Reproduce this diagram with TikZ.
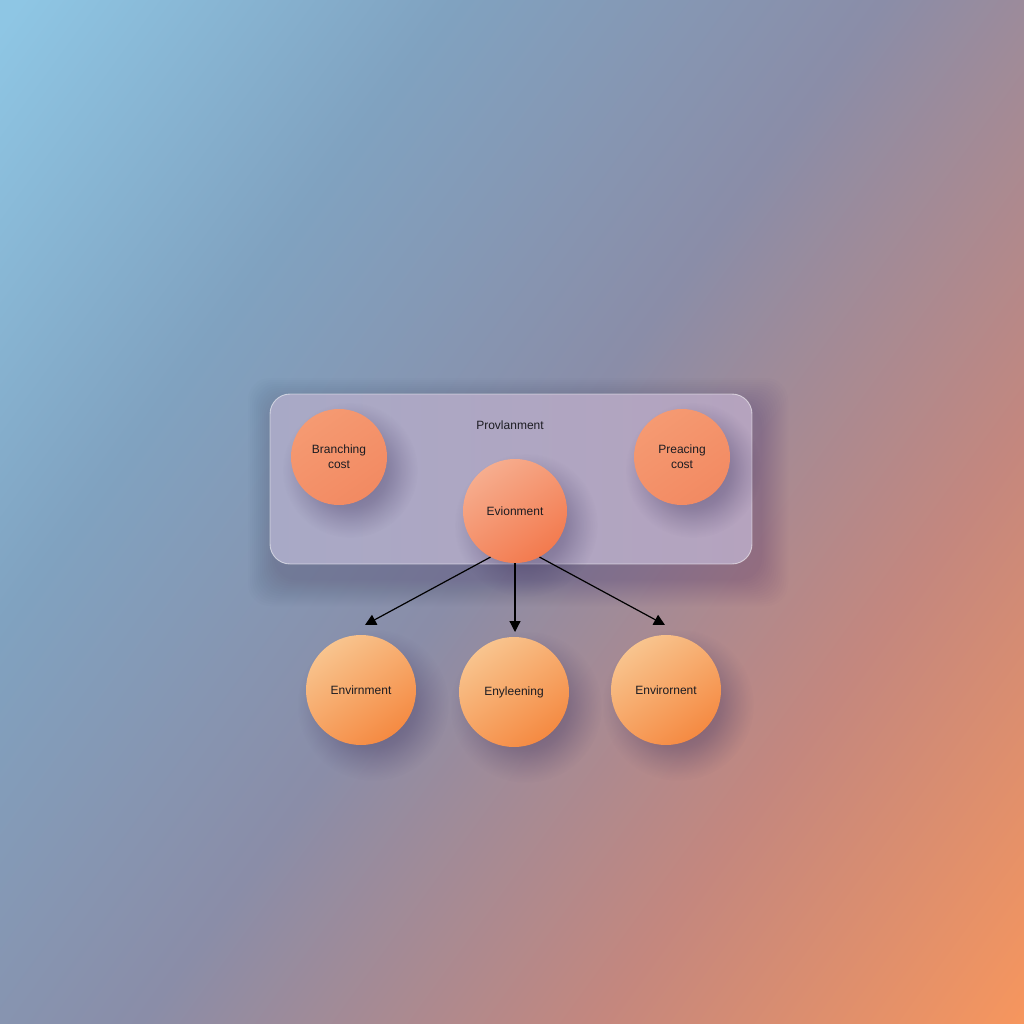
\documentclass[tikz,border=0pt]{standalone}
\usepackage{fontspec}
\setmainfont{Liberation Sans}
\usetikzlibrary{fadings,arrows.meta}
\definecolor{bgA}{HTML}{8EC6E4}
\definecolor{bgB}{HTML}{80A2C0}
\definecolor{bgC}{HTML}{8A8DA8}
\definecolor{bgD}{HTML}{C4877E}
\definecolor{bgE}{HTML}{FA975B}
\definecolor{txt}{HTML}{1C1C22}
\definecolor{ballTopA}{HTML}{F59A72}
\definecolor{ballTopB}{HTML}{F28A62}
\definecolor{ballHubA}{HTML}{F6AD8E}
\definecolor{ballHubB}{HTML}{F37A4E}
\definecolor{leafA}{HTML}{F8C48E}
\definecolor{leafB}{HTML}{F58A42}
\definecolor{panelA}{HTML}{A8A9C6}
\definecolor{panelB}{HTML}{B5A3BE}
\definecolor{shadowcol}{HTML}{3A2E5A}
\pgfdeclarehorizontalshading{bgshade}{100bp}{color(0bp)=(bgA); color(16bp)=(bgA); color(33bp)=(bgB); color(50bp)=(bgC); color(68bp)=(bgD); color(86bp)=(bgE); color(100bp)=(bgE)}
\pgfdeclareradialshading{softdiscshade}{\pgfpointorigin}{color(0bp)=(pgftransparent!0); color(8bp)=(pgftransparent!8); color(14bp)=(pgftransparent!30); color(19bp)=(pgftransparent!65); color(23bp)=(pgftransparent!90); color(25bp)=(pgftransparent!100); color(50bp)=(pgftransparent!100)}
\pgfdeclarefading{softdisc}{\pgfuseshading{softdiscshade}}
\tikzset{
  lbl/.style={text=txt, font=\fontsize{12}{15}\selectfont, align=center},
  topball/.style={circle, minimum size=96pt, inner sep=0pt, lbl,
    top color=ballTopA, bottom color=ballTopB, shading angle=35},
  hubball/.style={circle, minimum size=104pt, inner sep=0pt, lbl,
    top color=ballHubA, bottom color=ballHubB, shading angle=35},
  leafball/.style={circle, minimum size=110pt, inner sep=0pt, lbl,
    top color=leafA, bottom color=leafB, shading angle=35},
  softshadow/.style={fill=shadowcol, fill opacity=0.45, path fading=softdisc},
  link/.style={-{Triangle[length=11pt,width=11pt]}, line width=1.2pt, black}
}
\begin{document}
\begin{tikzpicture}[x=1pt,y=-1pt]
\useasboundingbox (0,0) rectangle (1024,1024);
\shade[shading=bgshade, shading angle=-36] (0,0) rectangle (1024,1024);
% panel shadow
\foreach \i in {1,...,14} {
  \fill[shadowcol, opacity=0.016, rounded corners=22pt] (270+6-\i*2,394+12-\i*2) rectangle (752+8+\i*2,564+14+\i*2);
}
% panel
\shade[rounded corners=20pt, left color=panelA, right color=panelB] (270,394) rectangle (752,564);
\draw[rounded corners=20pt, white, opacity=0.55, line width=0.9pt] (270,394) rectangle (752,564);
\node[lbl] (title) at (510,425) {Provlanment};
% ball shadows
\fill[softshadow] (350,470) circle (68pt);
\fill[softshadow] (693,470) circle (68pt);
\fill[softshadow] (526,525) circle (72pt);
\fill[softshadow] (373,705) circle (76pt);
\fill[softshadow] (526,707) circle (76pt);
\fill[softshadow] (678,705) circle (76pt);
% balls
\node[topball] (branch) at (339,457) {Branching\\cost};
\node[topball] (preac) at (682,457) {Preacing\\cost};
\node[hubball] (hub) at (515,511) {Evionment};
\node[leafball] (l1) at (361,690) {Envirnment};
\node[leafball] (l2) at (514,692) {Enyleening};
\node[leafball] (l3) at (666,690) {Envirornent};
\coordinate (e1) at (365,625);
\coordinate (e2) at (515,632);
\coordinate (e3) at (665,625);
\draw[link] (hub.-118) -- (e1);
\draw[link] (hub.south) -- (e2);
\draw[link] (hub.-62) -- (e3);
\end{tikzpicture}
\end{document}
